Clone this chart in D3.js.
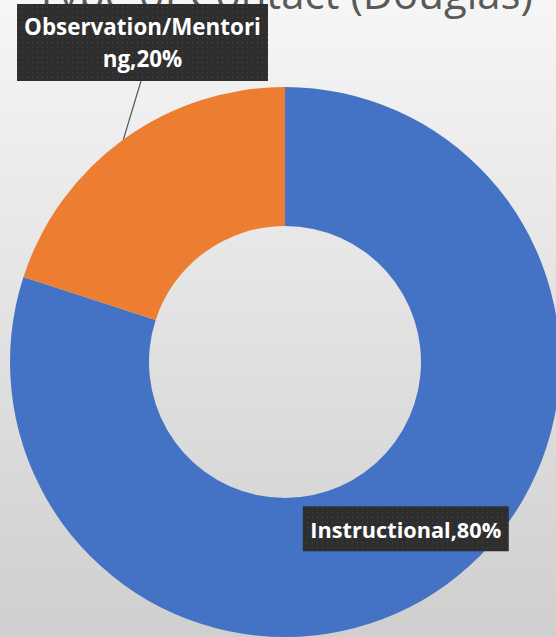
<!DOCTYPE html>
<html>
<head>
<meta charset="utf-8">
<script src="https://cdn.jsdelivr.net/npm/d3@7"></script>
<style>
  html, body { margin: 0; padding: 0; background: #ffffff; }
  svg { display: block; }
</style>
</head>
<body>
<div id="vis"></div>
<script>
// chart data
var categories = ["Instructional", "Observation/Mentoring"];
var values = [80, 20];
var colors = ["#4472C4", "#ED7D31"];
var title = "Type of Contact (Douglas)";

var w = 556;
var h = 637;
var cx = 285, cy = 362;
var outerR = 275, innerR = 136;

var svg = d3.select("#vis")
  .append("svg")
  .attr("width", w)
  .attr("height", h);

var defs = svg.append("defs");

//background gradient, light at top and grey at bottom
var bg = defs.append("linearGradient")
  .attr("id", "bg")
  .attr("x1", 0).attr("y1", 0)
  .attr("x2", 0).attr("y2", 1);
bg.append("stop").attr("offset", "0%").attr("stop-color", "#f6f6f6");
bg.append("stop").attr("offset", "100%").attr("stop-color", "#cfcfcf");

//dotted texture for the label boxes
var pat = defs.append("pattern")
  .attr("id", "dots")
  .attr("width", 5).attr("height", 5)
  .attr("patternUnits", "userSpaceOnUse");
pat.append("rect").attr("width", 5).attr("height", 5).attr("fill", "#2e2e2e");
pat.append("rect").attr("x", 2).attr("y", 2).attr("width", 1).attr("height", 1).attr("fill", "#4a4a4a");

svg.append("rect")
  .attr("width", w)
  .attr("height", h)
  .attr("fill", "url(#bg)");

//title, mostly cropped off the top
var titleText = svg.append("text")
  .attr("x", 35)
  .attr("y", 9)
  .attr("fill", "#595959")
  .style("font-family", "'Open Sans', 'DejaVu Sans', sans-serif")
  .style("font-size", "40px")
  .text(title);
var tw = titleText.node().getComputedTextLength();
titleText.style("font-size", (40 * 498 / tw) + "px");

var pie = d3.pie().sort(null).value(function(d) { return d; });
var arcs = pie(values);

var arc = d3.arc().innerRadius(innerR).outerRadius(outerR);
var edgeArc = d3.arc().innerRadius(outerR).outerRadius(outerR);

var g = svg.append("g").attr("transform", "translate(" + cx + "," + cy + ")");

g.selectAll("path")
  .data(arcs)
  .enter()
  .append("path")
  .attr("d", arc)
  .attr("fill", function(d, i) { return colors[i]; });

var fontFam = "'Open Sans', 'DejaVu Sans', sans-serif";

function labelBox(x, y, bw, bh, lines, targetW) {
  var lg = svg.append("g");
  lg.append("rect")
    .attr("x", x).attr("y", y)
    .attr("width", bw).attr("height", bh)
    .attr("fill", "url(#dots)");
  var lineH = bh / lines.length;
  var size = 18;
  lines.forEach(function(s, i) {
    var t = lg.append("text")
      .attr("x", x + bw / 2)
      .attr("y", y + (i + 0.5) * (bh - 14) / lines.length + 7)
      .attr("text-anchor", "middle")
      .attr("dominant-baseline", "central")
      .attr("fill", "#ffffff")
      .style("font-family", fontFam)
      .style("font-weight", "bold")
      .style("font-size", size + "px")
      .text(s);
    if (i == 0) {
      size = size * targetW / t.node().getComputedTextLength();
    }
    t.style("font-size", size + "px");
  });
  lg.selectAll("text").style("font-size", size + "px");
  return lg;
}

//leader line from the moved label to the middle of the orange slice edge
var obs = arcs[1];
var edge = edgeArc.centroid(obs);
svg.append("line")
  .attr("x1", 141).attr("y1", 81)
  .attr("x2", cx + edge[0]).attr("y2", cy + edge[1])
  .attr("stroke", "#595959")
  .attr("stroke-width", 1.2);

labelBox(17, 4, 251, 77, ["Observation/Mentori", "ng," + values[1] + "%"], 237);

//instructional label sits on the slice centroid
var c = arc.centroid(arcs[0]);
var ib = labelBox(cx + c[0] - 103, cy + c[1] - 22, 206, 45, [categories[0] + "," + values[0] + "%"], 191);
ib.select("text").attr("y", cy + c[1] + 1);
</script>
</body>
</html>
